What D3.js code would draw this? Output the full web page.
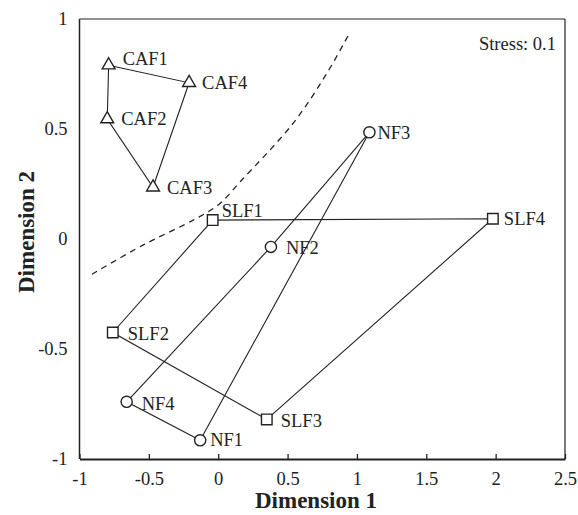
<!DOCTYPE html>
<html><head><meta charset="utf-8">
<script src="https://cdn.jsdelivr.net/npm/d3@7"></script>
<style>body{margin:0;background:#fff}</style></head>
<body>
<svg id="chart" width="578" height="515"></svg>
<script>
// ---- data ----
const pointNames = ["CAF1","CAF2","CAF3","CAF4","SLF1","SLF2","SLF3","SLF4","NF1","NF2","NF3","NF4"];
const dim1 = [-0.79,-0.80,-0.47,-0.21,-0.04,-0.76,0.35,1.98,-0.13,0.38,1.09,-0.66];
const dim2 = [0.79,0.545,0.235,0.71,0.086,-0.425,-0.82,0.092,-0.915,-0.036,0.485,-0.74];
const pointGroup = ["CAF","CAF","CAF","CAF","SLF","SLF","SLF","SLF","NF","NF","NF","NF"];
const cafOrder = ["CAF1","CAF4","CAF3","CAF2"];
const slfOrder = ["SLF1","SLF4","SLF3","SLF2"];
const nfOrder = ["NF3","NF2","NF4","NF1"];
const boundaryX = [-0.91,-0.54,-0.18,0.0,0.17,0.54,0.78,0.95];
const boundaryY = [-0.16,-0.027,0.086,0.155,0.268,0.526,0.75,0.94];
const xTicks = [-1,-0.5,0,0.5,1,1.5,2,2.5];
const yTicks = [-1,-0.5,0,0.5,1];
const stressText = "Stress: 0.1";

// ---- layout ----
const svg = d3.select("#chart");
const L = 79.5, R = 565, T = 19, B = 459;
const x = d3.scaleLinear().domain([-1,2.5]).range([L,R]);
const y = d3.scaleLinear().domain([-1,1]).range([B,T]);
const font = "'Liberation Serif','Times New Roman',serif";
const fmt = v => String(v);

const labelOffset = {
  CAF1:[14,-7], CAF4:[13,0], CAF2:[14,0], CAF3:[14,0],
  SLF1:[9,-9], SLF4:[11,0], SLF2:[15,1], SLF3:[14,1],
  NF2:[15,1], NF3:[8,0], NF4:[15,2], NF1:[10,-1]
};

const pts = pointNames.map((n,i)=>({name:n, x:dim1[i], y:dim2[i], g:pointGroup[i]}));
const byName = Object.fromEntries(pts.map(p=>[p.name,p]));

// frame
svg.append("line").attr("x1",L).attr("x2",R).attr("y1",T).attr("y2",T).attr("stroke","#222").attr("stroke-width",1.2);
svg.append("line").attr("x1",R).attr("x2",R).attr("y1",T).attr("y2",B).attr("stroke","#222").attr("stroke-width",1.2);
svg.append("line").attr("x1",L).attr("x2",L).attr("y1",T).attr("y2",B).attr("stroke","#222").attr("stroke-width",1.5);

// x axis
const xa = svg.append("g").attr("transform",`translate(0,${B})`)
  .call(d3.axisBottom(x).tickValues(xTicks).tickSizeInner(-5).tickSizeOuter(0).tickPadding(13).tickFormat(fmt));
xa.select(".domain").attr("stroke","#222").attr("stroke-width",2.2);
xa.selectAll(".tick line").attr("stroke","#222").attr("stroke-width",1.3);
xa.selectAll("text").attr("font-family",font).attr("font-size",18.5).attr("fill","#222");

// y axis
const ya = svg.append("g").attr("transform",`translate(${L},0)`)
  .call(d3.axisLeft(y).tickValues(yTicks).tickSize(0).tickPadding(12).tickFormat(fmt));
ya.select(".domain").remove();
ya.selectAll("text").attr("font-family",font).attr("font-size",18.5).attr("fill","#222");

// titles
svg.append("text").attr("x",316).attr("y",508).attr("text-anchor","middle")
  .attr("font-family",font).attr("font-weight","bold").attr("font-size",23).attr("fill","#222").text("Dimension 1");
svg.append("text").attr("transform","translate(34,232) rotate(-90)").attr("text-anchor","middle")
  .attr("font-family",font).attr("font-weight","bold").attr("font-size",23).attr("fill","#222").text("Dimension 2");
svg.append("text").attr("x",556).attr("y",50).attr("text-anchor","end")
  .attr("font-family",font).attr("font-size",18.5).attr("fill","#222").text(stressText);

// dashed boundary
svg.append("path")
  .datum(boundaryX.map((v,i)=>[v,boundaryY[i]]))
  .attr("d", d3.line().x(d=>x(d[0])).y(d=>y(d[1])).curve(d3.curveCatmullRom))
  .attr("fill","none").attr("stroke","#222").attr("stroke-width",1.3).attr("stroke-dasharray","6,5");

// polygons
const poly = d3.line().x(d=>x(d.x)).y(d=>y(d.y)).curve(d3.curveLinearClosed);
[cafOrder, slfOrder, nfOrder].forEach(order=>{
  svg.append("path").datum(order.map(n=>byName[n])).attr("d",poly)
    .attr("fill","none").attr("stroke","#222").attr("stroke-width",1.1);
});

// markers
const symType = {CAF:d3.symbolTriangle, SLF:d3.symbolSquare, NF:d3.symbolCircle};
const symSize = {CAF:72, SLF:112, NF:98};
svg.selectAll("path.mk").data(pts).join("path").attr("class","mk")
  .attr("transform",d=>`translate(${x(d.x)},${y(d.y)})`)
  .attr("d",d=>d3.symbol().type(symType[d.g]).size(symSize[d.g])())
  .attr("fill","#fff").attr("stroke","#222").attr("stroke-width",1.4);

// labels
svg.selectAll("text.lb").data(pts).join("text").attr("class","lb")
  .attr("x",d=>x(d.x)+labelOffset[d.name][0])
  .attr("y",d=>y(d.y)+labelOffset[d.name][1]+6.3)
  .attr("font-family",font).attr("font-size",18.5).attr("fill","#222").text(d=>d.name);
</script>
</body></html>
